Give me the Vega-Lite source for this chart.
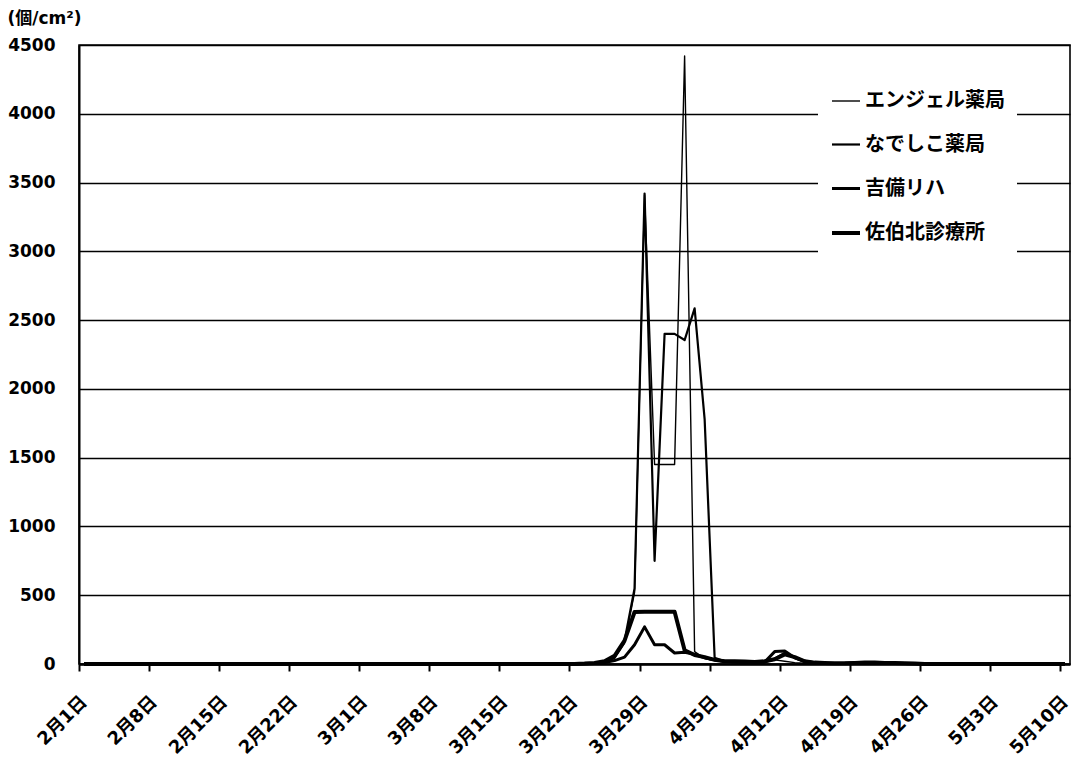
{
  "$schema": "https://vega.github.io/schema/vega-lite/v6.json",
  "width": 991,
  "height": 619,
  "autosize": {"type": "none"},
  "padding": {"left": 79, "top": 45, "right": 3, "bottom": 96},
  "background": "white",
  "config": {
    "view": {"stroke": "black", "strokeWidth": 1.6},
    "font": "'DejaVu Sans', 'Noto Sans CJK JP'"
  },
  "data": {
    "values": [
      {"日付": "2019-02-01", "エンジェル薬局": 0, "なでしこ薬局": 0, "吉備リハ": 0, "佐伯北診療所": 0},
      {"日付": "2019-02-02", "エンジェル薬局": 0, "なでしこ薬局": 0, "吉備リハ": 0, "佐伯北診療所": 0},
      {"日付": "2019-02-03", "エンジェル薬局": 0, "なでしこ薬局": 0, "吉備リハ": 0, "佐伯北診療所": 0},
      {"日付": "2019-02-04", "エンジェル薬局": 0, "なでしこ薬局": 0, "吉備リハ": 0, "佐伯北診療所": 0},
      {"日付": "2019-02-05", "エンジェル薬局": 0, "なでしこ薬局": 0, "吉備リハ": 0, "佐伯北診療所": 0},
      {"日付": "2019-02-06", "エンジェル薬局": 0, "なでしこ薬局": 0, "吉備リハ": 0, "佐伯北診療所": 0},
      {"日付": "2019-02-07", "エンジェル薬局": 0, "なでしこ薬局": 0, "吉備リハ": 0, "佐伯北診療所": 0},
      {"日付": "2019-02-08", "エンジェル薬局": 0, "なでしこ薬局": 0, "吉備リハ": 0, "佐伯北診療所": 0},
      {"日付": "2019-02-09", "エンジェル薬局": 0, "なでしこ薬局": 0, "吉備リハ": 0, "佐伯北診療所": 0},
      {"日付": "2019-02-10", "エンジェル薬局": 0, "なでしこ薬局": 0, "吉備リハ": 0, "佐伯北診療所": 0},
      {"日付": "2019-02-11", "エンジェル薬局": 0, "なでしこ薬局": 0, "吉備リハ": 0, "佐伯北診療所": 0},
      {"日付": "2019-02-12", "エンジェル薬局": 0, "なでしこ薬局": 0, "吉備リハ": 0, "佐伯北診療所": 0},
      {"日付": "2019-02-13", "エンジェル薬局": 0, "なでしこ薬局": 0, "吉備リハ": 0, "佐伯北診療所": 0},
      {"日付": "2019-02-14", "エンジェル薬局": 0, "なでしこ薬局": 0, "吉備リハ": 0, "佐伯北診療所": 0},
      {"日付": "2019-02-15", "エンジェル薬局": 0, "なでしこ薬局": 0, "吉備リハ": 0, "佐伯北診療所": 0},
      {"日付": "2019-02-16", "エンジェル薬局": 0, "なでしこ薬局": 0, "吉備リハ": 0, "佐伯北診療所": 0},
      {"日付": "2019-02-17", "エンジェル薬局": 0, "なでしこ薬局": 0, "吉備リハ": 0, "佐伯北診療所": 0},
      {"日付": "2019-02-18", "エンジェル薬局": 0, "なでしこ薬局": 0, "吉備リハ": 0, "佐伯北診療所": 0},
      {"日付": "2019-02-19", "エンジェル薬局": 0, "なでしこ薬局": 0, "吉備リハ": 0, "佐伯北診療所": 0},
      {"日付": "2019-02-20", "エンジェル薬局": 0, "なでしこ薬局": 0, "吉備リハ": 0, "佐伯北診療所": 0},
      {"日付": "2019-02-21", "エンジェル薬局": 0, "なでしこ薬局": 0, "吉備リハ": 0, "佐伯北診療所": 0},
      {"日付": "2019-02-22", "エンジェル薬局": 0, "なでしこ薬局": 0, "吉備リハ": 0, "佐伯北診療所": 0},
      {"日付": "2019-02-23", "エンジェル薬局": 0, "なでしこ薬局": 0, "吉備リハ": 0, "佐伯北診療所": 0},
      {"日付": "2019-02-24", "エンジェル薬局": 0, "なでしこ薬局": 0, "吉備リハ": 0, "佐伯北診療所": 0},
      {"日付": "2019-02-25", "エンジェル薬局": 0, "なでしこ薬局": 0, "吉備リハ": 0, "佐伯北診療所": 0},
      {"日付": "2019-02-26", "エンジェル薬局": 0, "なでしこ薬局": 0, "吉備リハ": 0, "佐伯北診療所": 0},
      {"日付": "2019-02-27", "エンジェル薬局": 0, "なでしこ薬局": 0, "吉備リハ": 0, "佐伯北診療所": 0},
      {"日付": "2019-02-28", "エンジェル薬局": 0, "なでしこ薬局": 0, "吉備リハ": 0, "佐伯北診療所": 0},
      {"日付": "2019-03-01", "エンジェル薬局": 0, "なでしこ薬局": 0, "吉備リハ": 0, "佐伯北診療所": 0},
      {"日付": "2019-03-02", "エンジェル薬局": 0, "なでしこ薬局": 0, "吉備リハ": 0, "佐伯北診療所": 0},
      {"日付": "2019-03-03", "エンジェル薬局": 0, "なでしこ薬局": 0, "吉備リハ": 0, "佐伯北診療所": 0},
      {"日付": "2019-03-04", "エンジェル薬局": 0, "なでしこ薬局": 0, "吉備リハ": 0, "佐伯北診療所": 0},
      {"日付": "2019-03-05", "エンジェル薬局": 0, "なでしこ薬局": 0, "吉備リハ": 0, "佐伯北診療所": 0},
      {"日付": "2019-03-06", "エンジェル薬局": 0, "なでしこ薬局": 0, "吉備リハ": 0, "佐伯北診療所": 0},
      {"日付": "2019-03-07", "エンジェル薬局": 0, "なでしこ薬局": 0, "吉備リハ": 0, "佐伯北診療所": 0},
      {"日付": "2019-03-08", "エンジェル薬局": 0, "なでしこ薬局": 0, "吉備リハ": 0, "佐伯北診療所": 0},
      {"日付": "2019-03-09", "エンジェル薬局": 0, "なでしこ薬局": 0, "吉備リハ": 0, "佐伯北診療所": 0},
      {"日付": "2019-03-10", "エンジェル薬局": 0, "なでしこ薬局": 0, "吉備リハ": 0, "佐伯北診療所": 0},
      {"日付": "2019-03-11", "エンジェル薬局": 0, "なでしこ薬局": 0, "吉備リハ": 0, "佐伯北診療所": 0},
      {"日付": "2019-03-12", "エンジェル薬局": 0, "なでしこ薬局": 0, "吉備リハ": 0, "佐伯北診療所": 0},
      {"日付": "2019-03-13", "エンジェル薬局": 0, "なでしこ薬局": 0, "吉備リハ": 0, "佐伯北診療所": 0},
      {"日付": "2019-03-14", "エンジェル薬局": 0, "なでしこ薬局": 0, "吉備リハ": 0, "佐伯北診療所": 0},
      {"日付": "2019-03-15", "エンジェル薬局": 0, "なでしこ薬局": 0, "吉備リハ": 0, "佐伯北診療所": 0},
      {"日付": "2019-03-16", "エンジェル薬局": 0, "なでしこ薬局": 0, "吉備リハ": 0, "佐伯北診療所": 0},
      {"日付": "2019-03-17", "エンジェル薬局": 0, "なでしこ薬局": 0, "吉備リハ": 0, "佐伯北診療所": 0},
      {"日付": "2019-03-18", "エンジェル薬局": 0, "なでしこ薬局": 0, "吉備リハ": 0, "佐伯北診療所": 0},
      {"日付": "2019-03-19", "エンジェル薬局": 0, "なでしこ薬局": 0, "吉備リハ": 0, "佐伯北診療所": 0},
      {"日付": "2019-03-20", "エンジェル薬局": 0, "なでしこ薬局": 0, "吉備リハ": 0, "佐伯北診療所": 0},
      {"日付": "2019-03-21", "エンジェル薬局": 0, "なでしこ薬局": 0, "吉備リハ": 0, "佐伯北診療所": 0},
      {"日付": "2019-03-22", "エンジェル薬局": 0, "なでしこ薬局": 0, "吉備リハ": 0, "佐伯北診療所": 0},
      {"日付": "2019-03-23", "エンジェル薬局": 0, "なでしこ薬局": 0, "吉備リハ": 2, "佐伯北診療所": 3},
      {"日付": "2019-03-24", "エンジェル薬局": 5, "なでしこ薬局": 5, "吉備リハ": 5, "佐伯北診療所": 8},
      {"日付": "2019-03-25", "エンジェル薬局": 15, "なでしこ薬局": 20, "吉備リハ": 10, "佐伯北診療所": 20},
      {"日付": "2019-03-26", "エンジェル薬局": 40, "なでしこ薬局": 50, "吉備リハ": 25, "佐伯北診療所": 60},
      {"日付": "2019-03-27", "エンジェル薬局": 150, "なでしこ薬局": 170, "吉備リハ": 50, "佐伯北診療所": 170},
      {"日付": "2019-03-28", "エンジェル薬局": 520, "なでしこ薬局": 550, "吉備リハ": 140, "佐伯北診療所": 378},
      {"日付": "2019-03-29", "エンジェル薬局": 3410, "なでしこ薬局": 3420, "吉備リハ": 270, "佐伯北診療所": 380},
      {"日付": "2019-03-30", "エンジェル薬局": 1450, "なでしこ薬局": 750, "吉備リハ": 140, "佐伯北診療所": 380},
      {"日付": "2019-03-31", "エンジェル薬局": 1450, "なでしこ薬局": 2400, "吉備リハ": 140, "佐伯北診療所": 380},
      {"日付": "2019-04-01", "エンジェル薬局": 1450, "なでしこ薬局": 2400, "吉備リハ": 80, "佐伯北診療所": 380},
      {"日付": "2019-04-02", "エンジェル薬局": 4420, "なでしこ薬局": 2355, "吉備リハ": 85, "佐伯北診療所": 100},
      {"日付": "2019-04-03", "エンジェル薬局": 90, "なでしこ薬局": 2585, "吉備リハ": 70, "佐伯北診療所": 65},
      {"日付": "2019-04-04", "エンジェル薬局": 40, "なでしこ薬局": 1780, "吉備リハ": 45, "佐伯北診療所": 50},
      {"日付": "2019-04-05", "エンジェル薬局": 25, "なでしこ薬局": 45, "吉備リハ": 30, "佐伯北診療所": 30},
      {"日付": "2019-04-06", "エンジェル薬局": 15, "なでしこ薬局": 20, "吉備リハ": 20, "佐伯北診療所": 20},
      {"日付": "2019-04-07", "エンジェル薬局": 10, "なでしこ薬局": 15, "吉備リハ": 15, "佐伯北診療所": 20},
      {"日付": "2019-04-08", "エンジェル薬局": 8, "なでしこ薬局": 10, "吉備リハ": 15, "佐伯北診療所": 18},
      {"日付": "2019-04-09", "エンジェル薬局": 5, "なでしこ薬局": 8, "吉備リハ": 10, "佐伯北診療所": 15},
      {"日付": "2019-04-10", "エンジェル薬局": 10, "なでしこ薬局": 15, "吉備リハ": 15, "佐伯北診療所": 20},
      {"日付": "2019-04-11", "エンジェル薬局": 30, "なでしこ薬局": 40, "吉備リハ": 90, "佐伯北診療所": 35},
      {"日付": "2019-04-12", "エンジェル薬局": 20, "なでしこ薬局": 80, "吉備リハ": 95, "佐伯北診療所": 70},
      {"日付": "2019-04-13", "エンジェル薬局": 10, "なでしこ薬局": 45, "吉備リハ": 45, "佐伯北診療所": 50},
      {"日付": "2019-04-14", "エンジェル薬局": 5, "なでしこ薬局": 15, "吉備リハ": 20, "佐伯北診療所": 20},
      {"日付": "2019-04-15", "エンジェル薬局": 3, "なでしこ薬局": 8, "吉備リハ": 10, "佐伯北診療所": 10},
      {"日付": "2019-04-16", "エンジェル薬局": 2, "なでしこ薬局": 5, "吉備リハ": 5, "佐伯北診療所": 8},
      {"日付": "2019-04-17", "エンジェル薬局": 0, "なでしこ薬局": 3, "吉備リハ": 3, "佐伯北診療所": 5},
      {"日付": "2019-04-18", "エンジェル薬局": 0, "なでしこ薬局": 2, "吉備リハ": 5, "佐伯北診療所": 5},
      {"日付": "2019-04-19", "エンジェル薬局": 0, "なでしこ薬局": 5, "吉備リハ": 10, "佐伯北診療所": 8},
      {"日付": "2019-04-20", "エンジェル薬局": 0, "なでしこ薬局": 5, "吉備リハ": 10, "佐伯北診療所": 10},
      {"日付": "2019-04-21", "エンジェル薬局": 0, "なでしこ薬局": 4, "吉備リハ": 8, "佐伯北診療所": 10},
      {"日付": "2019-04-22", "エンジェル薬局": 0, "なでしこ薬局": 3, "吉備リハ": 8, "佐伯北診療所": 8},
      {"日付": "2019-04-23", "エンジェル薬局": 0, "なでしこ薬局": 2, "吉備リハ": 5, "佐伯北診療所": 8},
      {"日付": "2019-04-24", "エンジェル薬局": 0, "なでしこ薬局": 2, "吉備リハ": 3, "佐伯北診療所": 5},
      {"日付": "2019-04-25", "エンジェル薬局": 0, "なでしこ薬局": 0, "吉備リハ": 2, "佐伯北診療所": 3},
      {"日付": "2019-04-26", "エンジェル薬局": 0, "なでしこ薬局": 0, "吉備リハ": 0, "佐伯北診療所": 0},
      {"日付": "2019-04-27", "エンジェル薬局": 0, "なでしこ薬局": 0, "吉備リハ": 0, "佐伯北診療所": 0},
      {"日付": "2019-04-28", "エンジェル薬局": 0, "なでしこ薬局": 0, "吉備リハ": 0, "佐伯北診療所": 0},
      {"日付": "2019-04-29", "エンジェル薬局": 0, "なでしこ薬局": 0, "吉備リハ": 0, "佐伯北診療所": 0},
      {"日付": "2019-04-30", "エンジェル薬局": 0, "なでしこ薬局": 0, "吉備リハ": 0, "佐伯北診療所": 0},
      {"日付": "2019-05-01", "エンジェル薬局": 0, "なでしこ薬局": 0, "吉備リハ": 0, "佐伯北診療所": 0},
      {"日付": "2019-05-02", "エンジェル薬局": 0, "なでしこ薬局": 0, "吉備リハ": 0, "佐伯北診療所": 0},
      {"日付": "2019-05-03", "エンジェル薬局": 0, "なでしこ薬局": 0, "吉備リハ": 0, "佐伯北診療所": 0},
      {"日付": "2019-05-04", "エンジェル薬局": 0, "なでしこ薬局": 0, "吉備リハ": 0, "佐伯北診療所": 0},
      {"日付": "2019-05-05", "エンジェル薬局": 0, "なでしこ薬局": 0, "吉備リハ": 0, "佐伯北診療所": 0},
      {"日付": "2019-05-06", "エンジェル薬局": 0, "なでしこ薬局": 0, "吉備リハ": 0, "佐伯北診療所": 0},
      {"日付": "2019-05-07", "エンジェル薬局": 0, "なでしこ薬局": 0, "吉備リハ": 0, "佐伯北診療所": 0},
      {"日付": "2019-05-08", "エンジェル薬局": 0, "なでしこ薬局": 0, "吉備リハ": 0, "佐伯北診療所": 0},
      {"日付": "2019-05-09", "エンジェル薬局": 0, "なでしこ薬局": 0, "吉備リハ": 0, "佐伯北診療所": 0},
      {"日付": "2019-05-10", "エンジェル薬局": 0, "なでしこ薬局": 0, "吉備リハ": 0, "佐伯北診療所": 0}
    ]
  },
  "transform": [
    {"fold": ["エンジェル薬局", "なでしこ薬局", "吉備リハ", "佐伯北診療所"], "as": ["施設", "花粉数"]}
  ],
  "mark": {"type": "line", "color": "black", "strokeJoin": "round"},
  "encoding": {
    "x": {
      "field": "日付",
      "timeUnit": "utcyearmonthdate",
      "type": "temporal",
      "bandPosition": 0.5,
      "scale": {
        "type": "utc",
        "nice": false,
        "domain": [
          {"year": 2019, "month": 2, "date": 1, "utc": true},
          {"year": 2019, "month": 5, "date": 11, "utc": true}
        ]
      },
      "axis": {
        "title": null,
        "grid": false,
        "values": [
          {"year": 2019, "month": 2, "date": 1, "utc": true},
          {"year": 2019, "month": 2, "date": 8, "utc": true},
          {"year": 2019, "month": 2, "date": 15, "utc": true},
          {"year": 2019, "month": 2, "date": 22, "utc": true},
          {"year": 2019, "month": 3, "date": 1, "utc": true},
          {"year": 2019, "month": 3, "date": 8, "utc": true},
          {"year": 2019, "month": 3, "date": 15, "utc": true},
          {"year": 2019, "month": 3, "date": 22, "utc": true},
          {"year": 2019, "month": 3, "date": 29, "utc": true},
          {"year": 2019, "month": 4, "date": 5, "utc": true},
          {"year": 2019, "month": 4, "date": 12, "utc": true},
          {"year": 2019, "month": 4, "date": 19, "utc": true},
          {"year": 2019, "month": 4, "date": 26, "utc": true},
          {"year": 2019, "month": 5, "date": 3, "utc": true},
          {"year": 2019, "month": 5, "date": 10, "utc": true}
        ],
        "format": "%-m月%-d日",
        "labelAngle": -45,
        "labelAlign": "right",
        "labelBaseline": "middle",
        "labelPadding": 28,
        "labelOffset": 5,
        "labelOverlap": false,
        "labelBound": false,
        "labelFlush": false,
        "labelFontSize": 18,
        "labelFontWeight": "bold",
        "labelColor": "black",
        "tickColor": "black",
        "tickSize": 7,
        "tickWidth": 2,
        "domainColor": "black",
        "domainWidth": 2.5
      }
    },
    "y": {
      "field": "花粉数",
      "type": "quantitative",
      "scale": {"domain": [0, 4500], "nice": false},
      "axis": {
        "values": [0, 500, 1000, 1500, 2000, 2500, 3000, 3500, 4000, 4500],
        "format": "d",
        "title": "(個/cm²)",
        "titleAngle": 0,
        "titleX": -72,
        "titleY": -27,
        "titleAlign": "left",
        "titleBaseline": "middle",
        "titleFontSize": 17,
        "titleFontWeight": "bold",
        "titleColor": "black",
        "ticks": false,
        "labelPadding": 24,
        "labelFontSize": 17,
        "labelFontWeight": "bold",
        "labelColor": "black",
        "gridColor": "black",
        "gridWidth": 1.6,
        "domainColor": "black",
        "domainWidth": 2
      }
    },
    "strokeWidth": {
      "field": "施設",
      "type": "nominal",
      "sort": ["エンジェル薬局", "なでしこ薬局", "吉備リハ", "佐伯北診療所"],
      "scale": {
        "type": "ordinal",
        "domain": ["エンジェル薬局", "なでしこ薬局", "吉備リハ", "佐伯北診療所"],
        "range": [1.4, 2.2, 3, 4]
      },
      "legend": {
        "title": null,
        "orient": "none",
        "legendX": 739,
        "legendY": 29,
        "padding": 12,
        "fillColor": "white",
        "symbolType": "stroke",
        "symbolSize": 784,
        "symbolStrokeColor": "black",
        "rowPadding": 18,
        "labelOffset": 3,
        "labelLimit": 300,
        "labelFont": "'Noto Sans CJK JP'",
        "labelFontSize": 20,
        "labelFontWeight": "bold",
        "labelColor": "black"
      }
    }
  }
}
